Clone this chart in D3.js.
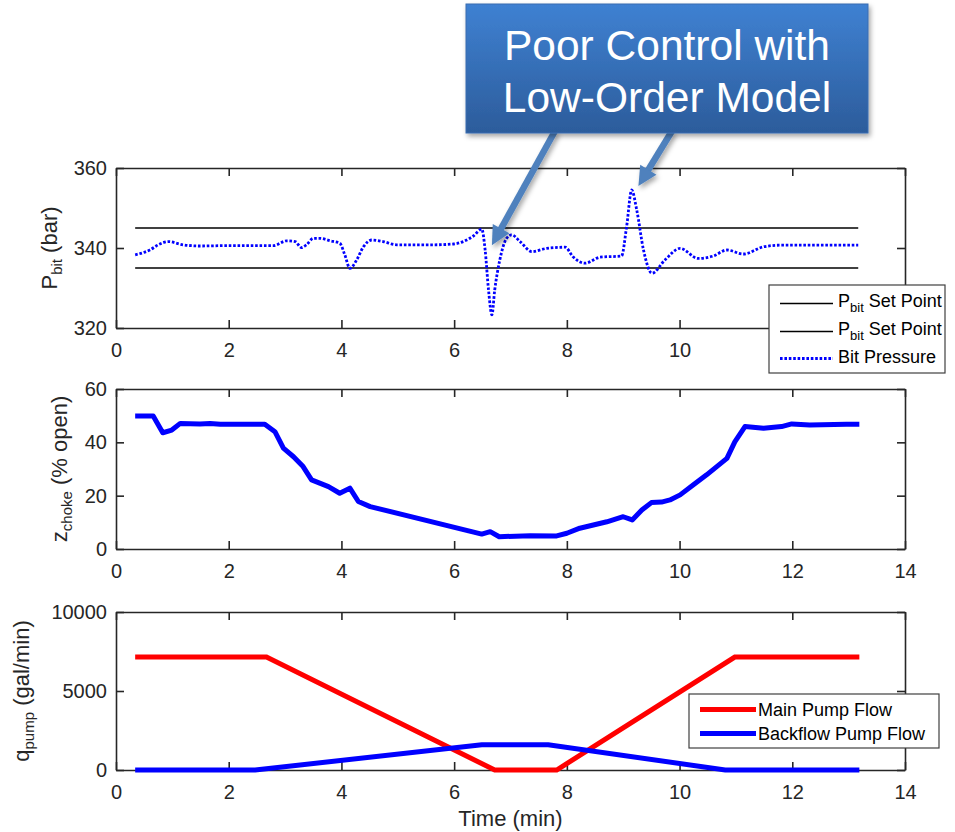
<!DOCTYPE html>
<html><head><meta charset="utf-8">
<script src="https://cdn.jsdelivr.net/npm/d3@7"></script>
<style>
html,body{margin:0;padding:0;background:#fff;}
svg{display:block;font-family:"Liberation Sans",Arial,Helvetica,sans-serif;}
</style></head><body>
<svg id="chart" width="955" height="832"></svg>
<script>
// ---------- data ----------
const xTicks = [0, 2, 4, 6, 8, 10, 12, 14];
const topPanelHiddenLabels = [12, 14]; // covered by the legend in the reference
const pressureTicks = [320, 340, 360];
const chokeTicks = [0, 20, 40, 60];
const pumpTicks = [0, 5000, 10000];

const bitTime = [0.34, 0.6, 0.75, 0.93, 1.19, 1.49, 2.0, 2.5, 2.79, 3.03, 3.18, 3.29, 3.38, 3.5, 3.62, 3.8, 3.97, 4.06, 4.15, 4.27, 4.39, 4.54, 4.74, 4.98, 5.63, 5.99, 6.16, 6.34, 6.49, 6.55, 6.61, 6.67, 6.72, 6.81, 6.93, 7.02, 7.17, 7.38, 7.64, 7.97, 8.11, 8.32, 8.59, 8.97, 9.06, 9.15, 9.24, 9.36, 9.51, 9.74, 10.01, 10.33, 10.6, 10.84, 11.13, 11.49, 11.78, 13.17];
const bitPressure = [338.3, 339.5, 340.8, 341.6, 340.8, 340.5, 340.6, 340.6, 340.6, 341.8, 341.6, 340.1, 340.8, 342.4, 342.4, 341.8, 341.2, 338.3, 334.9, 337.0, 340.3, 342.0, 341.6, 340.8, 340.8, 341.0, 341.6, 343.0, 344.7, 339.5, 329.5, 323.3, 329.5, 337.0, 342.4, 343.3, 341.6, 339.1, 339.9, 340.2, 337.8, 336.2, 337.7, 338.0, 345.3, 354.5, 349.5, 339.5, 333.7, 337.0, 339.9, 337.4, 338.0, 339.5, 338.5, 340.3, 340.7, 340.7];
const setPointTime = [0.34, 13.17];
const setPointHigh = [345, 345];
const setPointLow = [335, 335];

const chokeTime = [0.34, 0.66, 0.83, 0.99, 1.14, 1.49, 1.67, 1.85, 2.64, 2.82, 2.97, 3.15, 3.32, 3.47, 3.77, 3.97, 4.15, 4.3, 4.51, 6.49, 6.64, 6.8, 7.35, 7.82, 8.0, 8.23, 8.71, 9.0, 9.16, 9.33, 9.5, 9.68, 9.83, 10.01, 10.24, 10.48, 10.66, 10.84, 10.98, 11.16, 11.49, 11.81, 11.99, 12.31, 12.96, 13.19];
const chokeOpen = [49.9, 49.9, 43.6, 44.6, 47.1, 46.9, 47.1, 46.8, 46.8, 44.0, 37.8, 34.6, 30.9, 25.9, 23.4, 20.9, 22.8, 17.8, 15.9, 5.6, 6.5, 4.6, 5.0, 4.9, 5.9, 7.8, 10.2, 12.1, 10.9, 14.6, 17.4, 17.6, 18.4, 20.3, 24.0, 27.8, 30.9, 34.0, 40.2, 45.9, 45.3, 45.9, 46.9, 46.5, 46.8, 46.8];

const mainPumpTime = [0.34, 2.67, 6.72, 7.82, 10.98, 13.19];
const mainPumpFlow = [7150, 7150, 0, 0, 7150, 7150];
const backPumpTime = [0.34, 2.47, 6.49, 7.67, 10.81, 13.19];
const backPumpFlow = [0, 0, 1600, 1600, 0, 0];

const calloutLines = ["Poor Control with", "Low-Order Model"];
const arrowTips = [[6.67, 340.7], [9.27, 355.5]]; // data coords (time, bar)

// ---------- layout ----------
const svg = d3.select("#chart");
const AX = "#262626";
const BLUE = "#0000ff", RED = "#ff0000";
const x = d3.scaleLinear().domain([0, 14]).range([116, 905]);

const defs = svg.append("defs");
const grad = defs.append("linearGradient").attr("id", "cg").attr("x1", 0).attr("y1", 0).attr("x2", 0).attr("y2", 1);
grad.append("stop").attr("offset", "0%").attr("stop-color", "#3f81d2");
grad.append("stop").attr("offset", "100%").attr("stop-color", "#2c5c9b");
const f = defs.append("filter").attr("id", "sh").attr("x", "-10%").attr("y", "-10%").attr("width", "130%").attr("height", "140%");
f.append("feDropShadow").attr("dx", 2).attr("dy", 3).attr("stdDeviation", 2.5).attr("flood-color", "#000").attr("flood-opacity", 0.35);

function panel(yDomain, yRange, yTicks, label, labelX, hidden) {
  const y = d3.scaleLinear().domain(yDomain).range(yRange);
  const g = svg.append("g");
  const [yb, yt] = yRange;
  const fmt = d => (hidden && hidden.includes(d)) ? "" : d3.format("d")(d);
  g.append("g").attr("transform", `translate(0,${yb})`)
    .call(d3.axisBottom(x).tickValues(xTicks).tickSizeInner(-8).tickSizeOuter(0).tickPadding(15).tickFormat(fmt));
  g.append("g").attr("transform", `translate(0,${yt})`)
    .call(d3.axisTop(x).tickValues(xTicks).tickSizeInner(-8).tickSizeOuter(0).tickFormat(""));
  g.append("g").attr("transform", `translate(${x.range()[0]},0)`)
    .call(d3.axisLeft(y).tickValues(yTicks).tickSizeInner(-8).tickSizeOuter(0).tickPadding(9).tickFormat(d3.format("d")));
  g.append("g").attr("transform", `translate(${x.range()[1]},0)`)
    .call(d3.axisRight(y).tickValues(yTicks).tickSizeInner(-8).tickSizeOuter(0).tickFormat(""));
  g.selectAll(".domain").attr("stroke", AX).attr("stroke-width", 1.6);
  g.selectAll(".tick line").attr("stroke", AX).attr("stroke-width", 1.6);
  g.selectAll(".tick text").attr("fill", AX).attr("font-size", 20).attr("font-family", '"Liberation Sans",Arial,sans-serif');
  const t = svg.append("text")
    .attr("transform", `translate(${labelX},${(yb + yt) / 2}) rotate(-90)`)
    .attr("text-anchor", "middle").attr("fill", AX).attr("font-size", 22);
  t.append("tspan").text(label[0]);
  t.append("tspan").attr("font-size", 15).attr("dy", 5).text(label[1]);
  t.append("tspan").attr("dy", -5).text("\u00a0" + label[2]);
  return y;
}

// ---- top panel ----
const y1 = panel([320, 360], [328, 168], pressureTicks, ["P", "bit", "(bar)"], 57, topPanelHiddenLabels);
const line1 = d3.line().x(d => x(d[0])).y(d => y1(d[1]));
svg.append("path").datum(d3.zip(setPointTime, setPointHigh)).attr("d", line1)
  .attr("fill", "none").attr("stroke", "#000").attr("stroke-width", 1.6);
svg.append("path").datum(d3.zip(setPointTime, setPointLow)).attr("d", line1)
  .attr("fill", "none").attr("stroke", "#000").attr("stroke-width", 1.6);
svg.append("path").datum(d3.zip(bitTime, bitPressure))
  .attr("d", line1.curve(d3.curveMonotoneX))
  .attr("fill", "none").attr("stroke", BLUE).attr("stroke-width", 2.8)
  .attr("stroke-dasharray", "2.6,1.8");

// ---- middle panel ----
const y2 = panel([0, 60], [549, 389], chokeTicks, ["z", "choke", "(% open)"], 67);
svg.append("path").datum(d3.zip(chokeTime, chokeOpen))
  .attr("d", d3.line().x(d => x(d[0])).y(d => y2(d[1])))
  .attr("fill", "none").attr("stroke", BLUE).attr("stroke-width", 5).attr("stroke-linejoin", "round");

// ---- bottom panel ----
const y3 = panel([0, 10000], [770, 612], pumpTicks, ["q", "pump", "(gal/min)"], 29);
const line3 = d3.line().x(d => x(d[0])).y(d => y3(d[1]));
svg.append("path").datum(d3.zip(mainPumpTime, mainPumpFlow)).attr("d", line3)
  .attr("fill", "none").attr("stroke", RED).attr("stroke-width", 5);
svg.append("path").datum(d3.zip(backPumpTime, backPumpFlow)).attr("d", line3)
  .attr("fill", "none").attr("stroke", BLUE).attr("stroke-width", 5);

svg.append("text").attr("x", (x.range()[0] + x.range()[1]) / 2).attr("y", 826)
  .attr("text-anchor", "middle").attr("fill", AX).attr("font-size", 22).text("Time (min)");

// ---- legends ----
function legend(x0, y0, w, h, items) {
  const g = svg.append("g");
  g.append("rect").attr("x", x0).attr("y", y0).attr("width", w).attr("height", h)
    .attr("fill", "#fff").attr("stroke", "#404040").attr("stroke-width", 1.2);
  items.forEach(it => {
    g.append("line").attr("x1", it.x1).attr("x2", it.x2).attr("y1", it.ly).attr("y2", it.ly)
      .attr("stroke", it.color).attr("stroke-width", it.w).attr("stroke-dasharray", it.dash || null);
    const t = g.append("text").attr("x", it.tx).attr("y", it.ty).attr("font-size", 18).attr("fill", "#000");
    it.parts.forEach(p => {
      const s = t.append("tspan").text(p.t);
      if (p.sub) s.attr("font-size", 13).attr("dy", 5);
      if (p.back) s.attr("dy", -5);
    });
  });
}
legend(769, 285, 176, 88, [
  {x1: 780, x2: 833, ly: 303.5, color: "#000", w: 1.6, tx: 838, ty: 307, parts: [{t: "P"}, {t: "bit", sub: true}, {t: "\u00a0Set Point", back: true}]},
  {x1: 780, x2: 833, ly: 331.5, color: "#000", w: 1.6, tx: 838, ty: 335, parts: [{t: "P"}, {t: "bit", sub: true}, {t: "\u00a0Set Point", back: true}]},
  {x1: 780, x2: 833, ly: 358.5, color: BLUE, w: 2.8, dash: "2.6,1.8", tx: 838, ty: 363, parts: [{t: "Bit Pressure"}]}
]);
legend(689, 694, 250, 54, [
  {x1: 700, x2: 756, ly: 709.5, color: RED, w: 5, tx: 758, ty: 716, parts: [{t: "Main Pump Flow"}]},
  {x1: 700, x2: 756, ly: 733.5, color: BLUE, w: 5, tx: 758, ty: 740, parts: [{t: "Backflow Pump Flow"}]}
]);

// ---- callout ----
const cb = {x: 466, y: 4, w: 402, h: 129};
const arrowTails = [[555, cb.y + cb.h - 2], [672, cb.y + cb.h - 2]];
const ag = svg.append("g").attr("filter", "url(#sh)");
arrowTips.forEach((tip, i) => {
  const [tx, ty] = [x(tip[0]), y1(tip[1])];
  const [sx, sy] = arrowTails[i];
  const dx = tx - sx, dy = ty - sy, L = Math.hypot(dx, dy);
  const ux = dx / L, uy = dy / L, hl = 19, hw = 9.5;
  const bx = tx - ux * hl, by = ty - uy * hl;
  ag.append("line").attr("x1", sx).attr("y1", sy).attr("x2", bx + ux * 2).attr("y2", by + uy * 2)
    .attr("stroke", "#4f81bd").attr("stroke-width", 6.5);
  ag.append("path").attr("d", `M${tx},${ty}L${bx - uy * hw},${by + ux * hw}L${bx + uy * hw},${by - ux * hw}Z`)
    .attr("fill", "#4f81bd");
});
svg.append("rect").attr("x", cb.x).attr("y", cb.y).attr("width", cb.w).attr("height", cb.h)
  .attr("fill", "url(#cg)").attr("stroke", "#3a6db0").attr("stroke-width", 1).attr("filter", "url(#sh)");
calloutLines.forEach((s, i) => {
  svg.append("text").attr("x", cb.x + cb.w / 2).attr("y", 60 + i * 51.5)
    .attr("text-anchor", "middle").attr("fill", "#fff").attr("font-size", 42.5).text(s);
});
</script>
</body></html>
